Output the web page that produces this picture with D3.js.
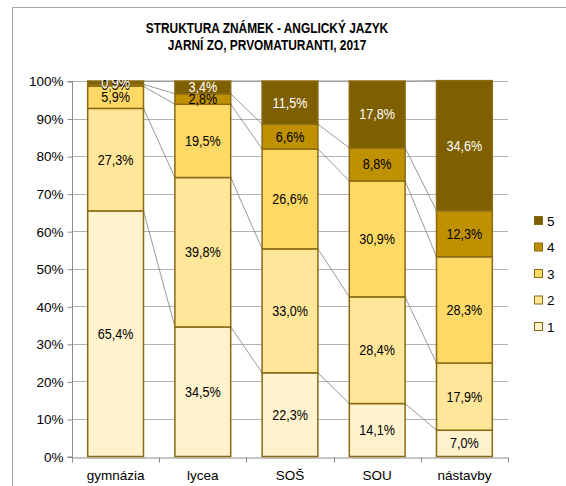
<!DOCTYPE html>
<html><head><meta charset="utf-8">
<script src="https://cdn.jsdelivr.net/npm/d3@7"></script>
<style>
body{margin:0;background:#fff;}
svg{display:block;}
</style></head>
<body>
<svg id="chart" width="566" height="486"></svg>
<script>
const categories = ["gymnázia","lycea","SOŠ","SOU","nástavby"];
const seriesNames = ["1","2","3","4","5"];
const grade1 = [65.4, 34.5, 22.3, 14.1, 7.0];
const grade2 = [27.3, 39.8, 33.0, 28.4, 17.9];
const grade3 = [5.9, 19.5, 26.6, 30.9, 28.3];
const grade4 = [0.5, 2.8, 6.6, 8.8, 12.3];
const grade5 = [0.9, 3.4, 11.5, 17.8, 34.6];
const yTicks = [0,10,20,30,40,50,60,70,80,90,100];
const titleLines = ["STRUKTURA ZNÁMEK - ANGLICKÝ JAZYK","JARNÍ ZO, PRVOMATURANTI, 2017"];

const seriesValues = [grade1, grade2, grade3, grade4, grade5];
const fills = ["#fff2cc","#ffe699","#ffd966","#bf9000","#7f6000"];
const labelColors = ["#000","#000","#000","#000","#fff"];
const stroke = "#8a6a14";

const svg = d3.select("#chart");
const font = "'Liberation Sans', Arial, sans-serif";

// outer frame
svg.append("path").attr("d","M12.5,486 V7.5 H566").attr("fill","none").attr("stroke","#a6a6a6").attr("stroke-width",1);

const m = {left:72, right:508, top:81, bottom:456.5};
const x = d3.scaleBand().domain(categories).range([m.left,m.right]).paddingInner(0.36).paddingOuter(0.18);
const y = d3.scaleLinear().domain([0,100]).range([m.bottom,m.top]);

// helper: condense text horizontally
function condense(sel, factor){
  sel.each(function(){
    const L = this.getComputedTextLength();
    d3.select(this).attr("textLength", L*factor).attr("lengthAdjust","spacingAndGlyphs");
  });
}

// title
svg.append("g").selectAll("text").data(titleLines).join("text")
  .attr("x",267).attr("y",(d,i)=>33+i*17).attr("text-anchor","middle")
  .attr("font-family",font).attr("font-weight","bold").attr("font-size",14).attr("fill","#000")
  .text(d=>d).call(condense,0.85);

// gridlines
svg.append("g").selectAll("line").data(yTicks.filter(t=>t>0)).join("line")
  .attr("x1",m.left).attr("x2",m.right).attr("y1",d=>Math.round(y(d))+0.5).attr("y2",d=>Math.round(y(d))+0.5)
  .attr("stroke","#b3b3b3").attr("stroke-width",1);

// y axis
const yAxis = d3.axisLeft(y).tickValues(yTicks).tickFormat(d=>d+"%").tickSize(5).tickPadding(4);
const gy = svg.append("g").attr("transform",`translate(${m.left+0.5},0.5)`).call(yAxis);
gy.select(".domain").attr("stroke","#8c8c8c").attr("d",`M-5,${m.top}H0V${m.bottom}H-5`);
gy.selectAll(".tick line").attr("stroke","#8c8c8c");
gy.selectAll("text").attr("font-family",font).attr("font-size",13.5).attr("fill","#000");

// x axis
const xAxis = d3.axisBottom(x).tickSize(0).tickPadding(13);
const gx = svg.append("g").attr("transform",`translate(0,${Math.round(m.bottom)+0.5})`).call(xAxis);
gx.select(".domain").attr("stroke","#8c8c8c");
gx.selectAll("text").attr("font-family",font).attr("font-size",13.5).attr("fill","#000");
const step = x.step();
gx.append("g").selectAll("line").data(d3.range(categories.length+1)).join("line")
  .attr("x1",i=>Math.round(m.left+i*step)+0.5).attr("x2",i=>Math.round(m.left+i*step)+0.5)
  .attr("y1",0).attr("y2",5).attr("stroke","#8c8c8c");

// stacking
const rows = categories.map((c,i)=>{const o={cat:c}; seriesNames.forEach((s,k)=>o[s]=seriesValues[k][i]); return o;});
const stack = d3.stack().keys(seriesNames)(rows);

// series lines
const sl = svg.append("g");
stack.forEach((layer,k)=>{
  for(let i=0;i<categories.length-1;i++){
    sl.append("line")
      .attr("x1",x(categories[i])+x.bandwidth()).attr("y1",y(layer[i][1]))
      .attr("x2",x(categories[i+1])).attr("y2",y(layer[i+1][1]))
      .attr("stroke","#7f7f7f").attr("stroke-width",0.8);
  }
});

// bars
const gb = svg.append("g");
stack.forEach((layer,k)=>{
  gb.append("g").selectAll("rect").data(layer).join("rect")
    .attr("x",(d,i)=>x(categories[i])).attr("width",x.bandwidth())
    .attr("y",d=>y(d[1])).attr("height",d=>y(d[0])-y(d[1]))
    .attr("fill",fills[k]).attr("stroke",stroke).attr("stroke-width",1.5);
});

// labels
const gl = svg.append("g");
stack.forEach((layer,k)=>{
  gl.append("g").selectAll("text").data(layer).join("text")
    .attr("x",(d,i)=>x(categories[i])+x.bandwidth()/2)
    .attr("y",d=>y((d[0]+d[1])/2)).attr("dy","0.36em")
    .attr("text-anchor","middle").attr("font-family",font).attr("font-size",14)
    .attr("fill",labelColors[k])
    .text(d=>(d[1]-d[0]).toFixed(1).replace(".",",")+"%")
    .call(condense,0.9);
});

// legend
const lg = svg.append("g");
const order = [4,3,2,1,0];
order.forEach((k,j)=>{
  const yy = 221 + j*26.5;
  lg.append("rect").attr("x",534.5).attr("y",yy-4.5).attr("width",8).attr("height",8)
    .attr("fill",fills[k]).attr("stroke",stroke).attr("stroke-width",1);
  lg.append("text").attr("x",547).attr("y",yy).attr("dy","0.36em")
    .attr("font-family",font).attr("font-size",13.5).attr("fill","#000").text(seriesNames[k]);
});
</script>
</body></html>
